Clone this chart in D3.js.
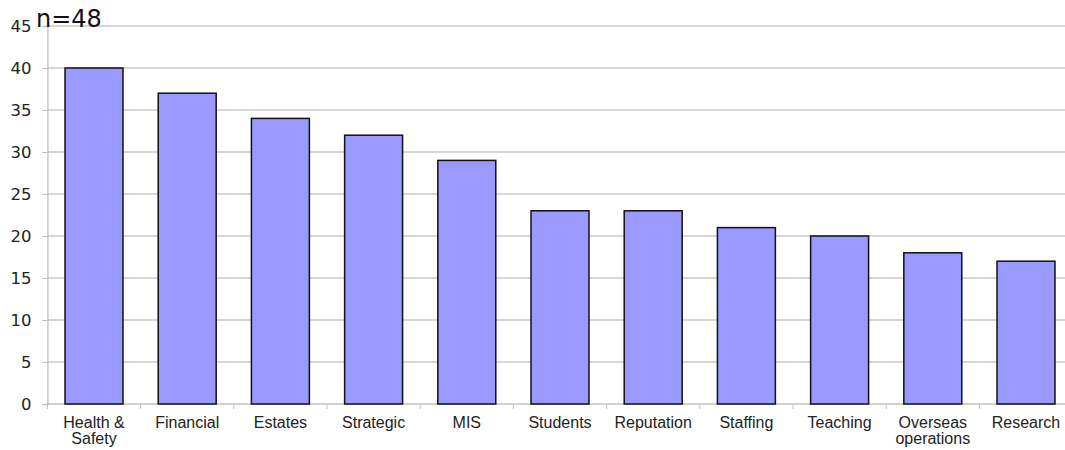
<!DOCTYPE html>
<html><head><meta charset="utf-8">
<script src="https://cdn.jsdelivr.net/npm/d3@7"></script>
<style>body{margin:0;background:#fff}svg{display:block}</style>
</head><body><svg id="c" width="1065" height="450"></svg>
<script>
const categories = [["Health &","Safety"],["Financial"],["Estates"],["Strategic"],["MIS"],["Students"],["Reputation"],["Staffing"],["Teaching"],["Overseas","operations"],["Research"]];
const values = [40,37,34,32,29,23,23,21,20,18,17];
const yTicks = [0,5,10,15,20,25,30,35,40,45];
const title = "n=48";

const svg = d3.select("#c");
const x0 = 47.4, step = 93.2;
const x = d3.scaleBand().domain(d3.range(categories.length)).range([x0, x0 + step*categories.length]).paddingInner(0.378).paddingOuter(0.189);
const y = d3.scaleLinear().domain([0,45]).range([404,26]);

// gridlines
svg.append("g").selectAll("line").data(yTicks.filter(d=>d>0)).join("line")
  .attr("x1", x0).attr("x2", 1065).attr("y1", d=>y(d)).attr("y2", d=>y(d))
  .attr("stroke","#c8c8c8").attr("stroke-width",1.3);

// y axis
const ya = svg.append("g").attr("transform",`translate(${x0},0)`).call(d3.axisLeft(y).tickValues(yTicks).tickSize(5).tickPadding(11));
ya.select(".domain").attr("stroke","#c0c0c0").attr("stroke-width",1.3);
ya.selectAll(".tick line").attr("stroke","#c0c0c0");
ya.selectAll("text").style("font-size","16.5px").attr("fill","#222").style("font-family",'"DejaVu Sans",sans-serif');

// x axis line + ticks at band boundaries
svg.append("line").attr("x1",x0).attr("x2",1065).attr("y1",y(0)).attr("y2",y(0)).attr("stroke","#c0c0c0").attr("stroke-width",1.3);
svg.append("g").selectAll("line").data(d3.range(categories.length+1)).join("line")
  .attr("x1",d=>x0+d*step).attr("x2",d=>x0+d*step).attr("y1",y(0)).attr("y2",y(0)+5)
  .attr("stroke","#c0c0c0");

// bars
svg.append("g").selectAll("rect").data(values).join("rect")
  .attr("x",(d,i)=>x(i)).attr("width",x.bandwidth())
  .attr("y",d=>y(d)).attr("height",d=>y(0)-y(d))
  .attr("fill","#9999ff").attr("stroke","#111").attr("stroke-width",1.5);

// x labels
const lab = svg.append("g").selectAll("text").data(categories).join("text")
  .attr("x",(d,i)=>x(i)+x.bandwidth()/2).attr("y",428)
  .attr("text-anchor","middle").style("font-size","16px").attr("fill","#222")
  .style("font-family",'"Liberation Sans",Arial,sans-serif');
lab.selectAll("tspan").data(d=>d).join("tspan")
  .attr("x",function(){return this.parentNode.getAttribute("x");})
  .attr("dy",(d,i)=>i?16:0).text(d=>d);

svg.append("text").attr("x",36).attr("y",27).style("font-size","24px").attr("fill","#111")
  .style("font-family",'"DejaVu Sans",sans-serif').text(title);
</script></body></html>
